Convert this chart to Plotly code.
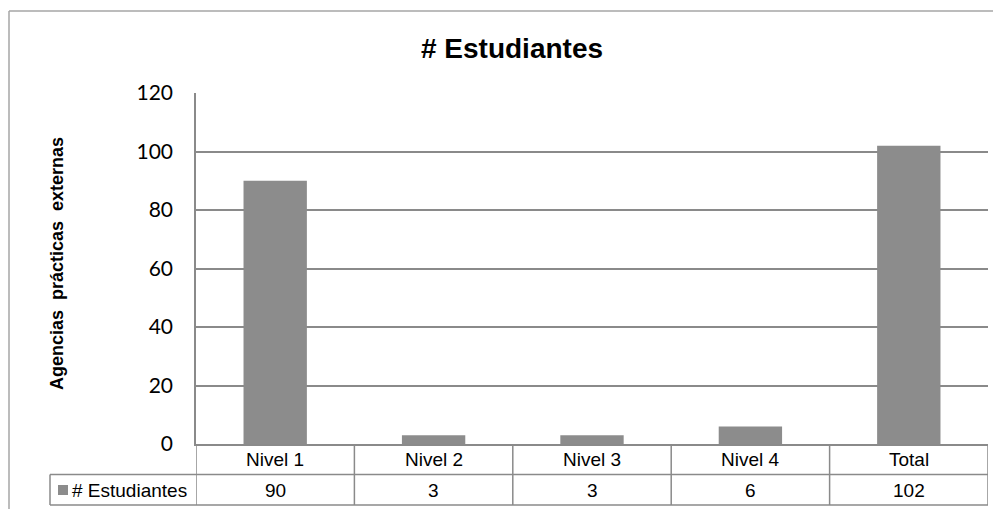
import plotly.graph_objects as go

categories = ["Nivel 1", "Nivel 2", "Nivel 3", "Nivel 4", "Total"]
values = [90, 3, 3, 6, 102]
series_name = "# Estudiantes"
y_ticks = [0, 20, 40, 60, 80, 100, 120]

OFF = 8  # page body margin offset in the browser
W, H = 1001 - OFF, 509 - OFF
# plot area in reference pixel coordinates
L, R, T, B = 196, 988, 93, 444

def px(x):
    return (x - L) / (R - L)

def py(y):
    return (B - y) / (B - T)

bar_color = "#8c8c8c"
line_color = "#8a8a8a"
x_idx = list(range(len(categories)))

fig = go.Figure(go.Bar(x=x_idx, y=values, marker=dict(color=bar_color, line=dict(width=0)),
                       name=series_name, showlegend=False))

shapes = []
# outer chart border (top and left)
shapes.append(dict(type="line", xref="paper", yref="paper", x0=px(9), x1=px(1010), y0=py(11), y1=py(11),
                   line=dict(color="#a6a6a6", width=1.5)))
shapes.append(dict(type="line", xref="paper", yref="paper", x0=px(9), x1=px(9), y0=py(11), y1=py(520),
                   line=dict(color="#a6a6a6", width=1.5)))
# data table horizontal lines
for yy in (474.5, 505):
    shapes.append(dict(type="line", xref="paper", yref="paper", x0=px(50), x1=1.0, y0=py(yy), y1=py(yy),
                       line=dict(color=line_color, width=1.5)))
# vertical separators
for i in range(len(categories) + 1):
    shapes.append(dict(type="line", xref="x", yref="paper", x0=i - 0.5, x1=i - 0.5, y0=0, y1=py(505),
                       line=dict(color=line_color, width=1.5)))
shapes.append(dict(type="line", xref="paper", yref="paper", x0=px(50), x1=px(50), y0=py(474.5), y1=py(505),
                   line=dict(color=line_color, width=1.5)))
# legend key
shapes.append(dict(type="rect", xref="paper", yref="paper", x0=px(58), x1=px(68), y0=py(495), y1=py(485),
                   fillcolor=bar_color, line=dict(width=0)))

font_tbl = dict(family="Liberation Sans, Arial", size=19, color="#000000")
annotations = []
for i, (c, v) in enumerate(zip(categories, values)):
    annotations.append(dict(x=i, y=py(459.5), xref="x", yref="paper", text=c, showarrow=False,
                            xanchor="center", yanchor="middle", font=font_tbl))
    annotations.append(dict(x=i, y=py(490), xref="x", yref="paper", text=str(v), showarrow=False,
                            xanchor="center", yanchor="middle", font=font_tbl))
annotations.append(dict(x=px(70), y=py(490), xref="paper", yref="paper", text=series_name, showarrow=False,
                        xanchor="left", yanchor="middle", font=font_tbl))
annotations.append(dict(x=px(57), y=py(264), xref="paper", yref="paper",
                        text="<b>Agencias\u00a0 prácticas\u00a0 externas</b>", textangle=-90, showarrow=False,
                        xanchor="center", yanchor="middle",
                        font=dict(family="Liberation Sans, Arial", size=18, color="#000000")))

fig.update_layout(
    width=W, height=H,
    margin=dict(l=L - OFF, r=W - (R - OFF), t=T - OFF, b=H - (B - OFF)),
    paper_bgcolor="white", plot_bgcolor="white",
    title=dict(text="<b># Estudiantes</b>", xref="container", x=(512 - OFF) / W, xanchor="center",
               yref="container", y=1 - (48 - OFF) / H, yanchor="middle",
               font=dict(family="Liberation Sans, Arial", size=28, color="#000000")),
    bargap=0.6,
    xaxis=dict(range=[-0.5, len(categories) - 0.5], showticklabels=False, showgrid=False, zeroline=False,
               showline=True, linecolor=line_color, linewidth=1.5, ticks="", fixedrange=True),
    yaxis=dict(range=[0, 120], tickvals=y_ticks, showgrid=True, gridcolor=line_color, gridwidth=1.5,
               zeroline=False, showline=True, linecolor=line_color, linewidth=1.5, ticks="",
               ticklabelstandoff=17, tickfont=dict(family="Lato, Carlito, Calibri", size=21, color="#000000")),
    shapes=shapes, annotations=annotations,
)

fig.write_html("out.html")
